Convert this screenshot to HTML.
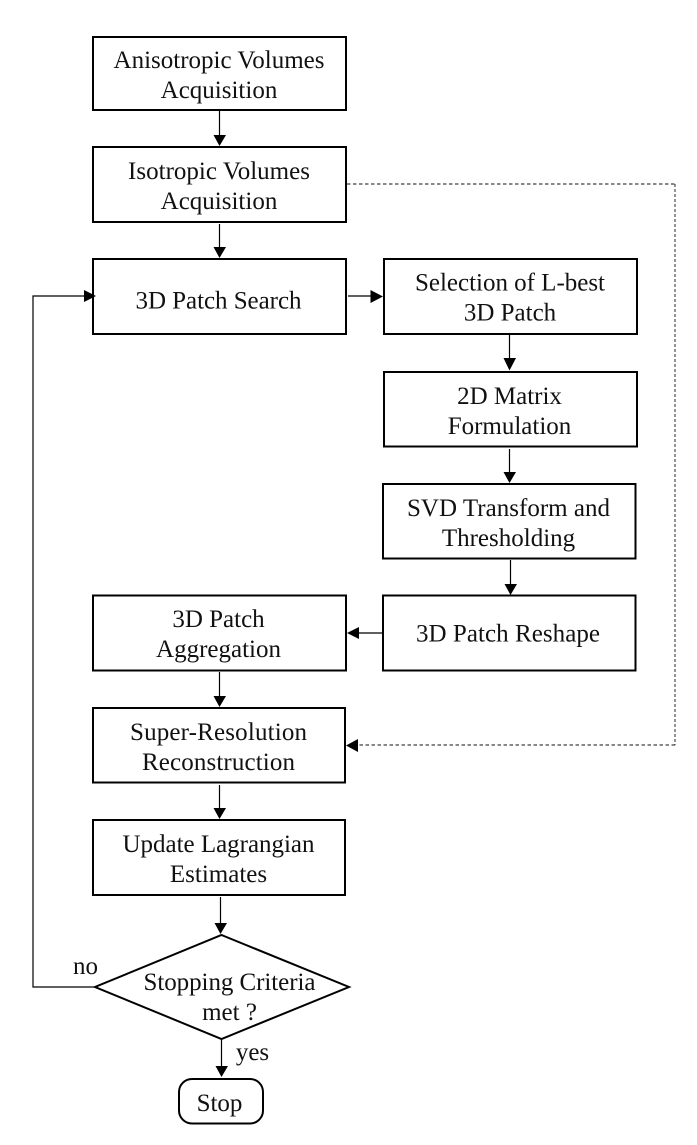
<!DOCTYPE html>
<html>
<head>
<meta charset="utf-8">
<style>
html,body{margin:0;padding:0;background:#fff;}
svg{display:block;}
text{font-family:"Liberation Serif",serif;font-size:25px;fill:#111;text-anchor:middle;}
.b{fill:#fff;stroke:#000;stroke-width:2;}
.l{fill:none;stroke:#000;stroke-width:1.2;}
.d{fill:none;stroke:#111;stroke-width:1;stroke-dasharray:3.5 2.5;}
.v{fill:none;stroke:#666;stroke-width:1.4;stroke-dasharray:3 2;}
</style>
</head>
<body>
<svg width="697" height="1145" viewBox="0 0 697 1145" xmlns="http://www.w3.org/2000/svg">
<rect width="697" height="1145" fill="#fff"/>
<rect class="b" x="93" y="37" width="253" height="73"/>
<rect class="b" x="93" y="147" width="253" height="75"/>
<rect class="b" x="93" y="259" width="253" height="75"/>
<rect class="b" x="384" y="259" width="253" height="75"/>
<rect class="b" x="384" y="372" width="253" height="74.5"/>
<rect class="b" x="383" y="484" width="252.5" height="74.5"/>
<rect class="b" x="383" y="595.5" width="252.5" height="75"/>
<rect class="b" x="93" y="595.5" width="253" height="75"/>
<rect class="b" x="93" y="708" width="252" height="74.5"/>
<rect class="b" x="93" y="820" width="252" height="75"/>
<polygon class="b" points="221.5,935 349,987 221.5,1039 95,987"/>
<rect class="b" x="179" y="1079" width="84" height="44.5" rx="13" ry="13"/>

<path class="l" d="M219.5 111V136M219.5 224V248M219.5 672V697M219.5 785V809M220.5 897V924M221.5 1040V1067M509.5 335V360M509.5 449V473M510.5 560V585M348 296H372M383 633H358M95 987H33V296H85"/>
<path class="d" d="M347 184H675"/>
<path class="v" d="M675 184V745"/>
<path class="d" d="M675 745H357"/>

<g fill="#000">
<polygon points="213.5,135 226,135 219.5,146"/>
<polygon points="213.5,247 226,247 219.5,258"/>
<polygon points="213.5,696 226,696 219.5,707"/>
<polygon points="213.5,808 226,808 219.5,819"/>
<polygon points="214.5,923 227,923 220.5,934"/>
<polygon points="215.5,1066 228,1066 221.5,1077"/>
<polygon points="503.5,358 516,358 509.5,370.5"/>
<polygon points="503.5,472 516,472 509.5,483"/>
<polygon points="504.5,584 517,584 510.5,595"/>
<polygon points="370.5,290 383,296.5 370.5,303"/>
<polygon points="84,290 96,296 84,302"/>
<polygon points="359,627 347,633 359,639"/>
<polygon points="358,739 346,745.5 358,752"/>
</g>

<text x="219" y="68" textLength="211">Anisotropic Volumes</text>
<text x="219" y="98">Acquisition</text>
<text x="219" y="179" textLength="182">Isotropic Volumes</text>
<text x="219" y="209">Acquisition</text>
<text x="218.5" y="308.5" textLength="166">3D Patch Search</text>
<text x="510" y="290.5" textLength="190">Selection of L-best</text>
<text x="510" y="320.5">3D Patch</text>
<text x="509.5" y="404">2D Matrix</text>
<text x="509.5" y="434">Formulation</text>
<text x="508.5" y="516" textLength="203">SVD Transform and</text>
<text x="508.5" y="546">Thresholding</text>
<text x="508" y="641.5" textLength="184">3D Patch Reshape</text>
<text x="218.5" y="627">3D Patch</text>
<text x="218.5" y="657">Aggregation</text>
<text x="218.5" y="740" textLength="177">Super-Resolution</text>
<text x="218.5" y="770" textLength="153">Reconstruction</text>
<text x="218.5" y="852" textLength="192">Update Lagrangian</text>
<text x="218.5" y="882">Estimates</text>
<text x="229.5" y="990" textLength="172">Stopping Criteria</text>
<text x="229.5" y="1020">met ?</text>
<text x="219.5" y="1111">Stop</text>
<text x="85.5" y="974">no</text>
<text x="252.5" y="1060">yes</text>
</svg>
</body>
</html>
